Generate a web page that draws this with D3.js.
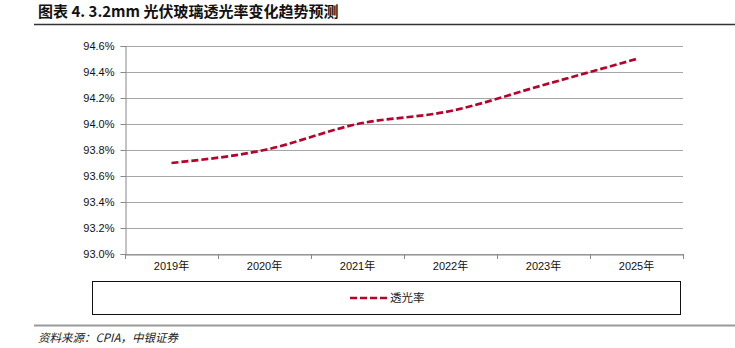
<!DOCTYPE html>
<html><head><meta charset="utf-8">
<script src="https://cdn.jsdelivr.net/npm/d3@7"></script>
<style>body{margin:0;background:#fff}svg{display:block}</style>
</head><body>
<svg id="c" width="735" height="348"></svg>
<script>
const categories = ["2019年","2020年","2021年","2022年","2023年","2025年"];
const values = [93.7, 93.8, 94.0, 94.1, 94.3, 94.5];
const yTicks = [93.0, 93.2, 93.4, 93.6, 93.8, 94.0, 94.2, 94.4, 94.6];
const seriesName = "透光率";
const title = "图表 4. 3.2mm 光伏玻璃透光率变化趋势预测";
const source = "资料来源：CPIA，中银证券";

const svg = d3.select("#c");
const font = "'Liberation Sans', Arial, 'Noto Sans CJK SC', sans-serif";
const cjk = "'Noto Sans CJK SC', sans-serif";
const lineColor = "#B8002A";

// title
svg.append("text").attr("x", 38).attr("y", 17).attr("font-family", cjk)
  .attr("font-size", 15).attr("font-weight", "bold").attr("fill", "#111").text(title);
svg.append("line").attr("x1", 34).attr("x2", 735).attr("y1", 24.5).attr("y2", 24.5)
  .attr("stroke", "#333").attr("stroke-width", 1.3);

const L = 125, R = 683, T = 46, B = 254;
const x = d3.scaleBand().domain(categories).range([L, R]);
const y = d3.scaleLinear().domain([93.0, 94.6]).range([B, T]);

// gridlines
svg.append("g").selectAll("line").data(yTicks).join("line")
  .attr("x1", L).attr("x2", R).attr("y1", d => Math.round(y(d)) + 0.5).attr("y2", d => Math.round(y(d)) + 0.5)
  .attr("stroke", "#a6a6a6").attr("stroke-width", 1);

// y axis
const ya = svg.append("g").attr("transform", `translate(${L + 0.5},0)`)
  .call(d3.axisLeft(y).tickValues(yTicks).tickSize(5).tickPadding(6).tickFormat(d => d.toFixed(1) + "%"));
ya.select(".domain").attr("stroke", "#888");
ya.selectAll(".tick line").attr("stroke", "#888");
ya.selectAll("text").attr("font-family", font).attr("font-size", 11).attr("fill", "#111");

// x axis
const xa = svg.append("g").attr("transform", `translate(0,${B + 0.5})`)
  .call(d3.axisBottom(x).tickSize(0).tickPadding(8));
xa.select(".domain").attr("stroke", "#888");
xa.selectAll("text").attr("font-family", font).attr("font-size", 11).attr("fill", "#111");
// boundary ticks
const bounds = categories.map(c => x(c)).concat([R]);
svg.append("g").selectAll("line").data(bounds).join("line")
  .attr("x1", d => Math.round(d) + 0.5).attr("x2", d => Math.round(d) + 0.5)
  .attr("y1", B).attr("y2", B + 5).attr("stroke", "#888");

// line
const line = d3.line().x((d, i) => x(categories[i]) + x.bandwidth() / 2).y(d => y(d))
  .curve(d3.curveMonotoneX);
svg.append("path").datum(values).attr("d", line).attr("fill", "none")
  .attr("stroke", lineColor).attr("stroke-width", 2.7).attr("stroke-dasharray", "7,3");

// legend
svg.append("rect").attr("x", 92.5).attr("y", 281.5).attr("width", 588).attr("height", 33)
  .attr("fill", "none").attr("stroke", "#111").attr("stroke-width", 1);
svg.append("line").attr("x1", 350).attr("x2", 387).attr("y1", 298).attr("y2", 298)
  .attr("stroke", lineColor).attr("stroke-width", 2.7).attr("stroke-dasharray", "7,3");
svg.append("text").attr("x", 390).attr("y", 302).attr("font-family", cjk).attr("font-size", 11.5)
  .attr("fill", "#222").text(seriesName);

// bottom rule and source
svg.append("line").attr("x1", 34).attr("x2", 735).attr("y1", 325.5).attr("y2", 325.5)
  .attr("stroke", "#999").attr("stroke-width", 2);
svg.append("text").attr("x", 38).attr("y", 342).attr("font-family", cjk).attr("font-size", 11.5)
  .attr("font-style", "italic").attr("fill", "#222").text(source);
</script>
</body></html>
